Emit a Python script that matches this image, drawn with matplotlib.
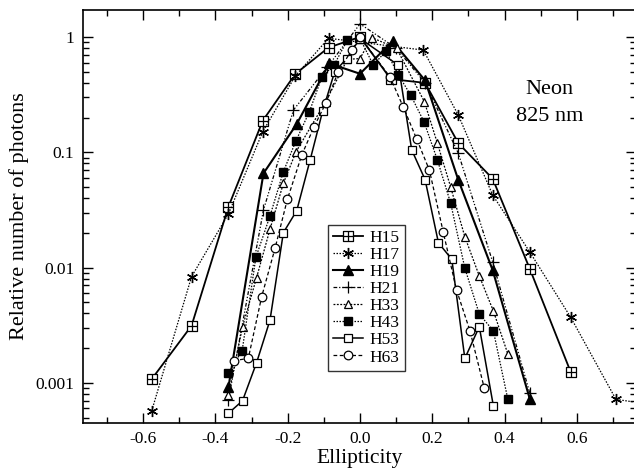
import numpy as np
import matplotlib
matplotlib.use("Agg")
import matplotlib.pyplot as plt
from matplotlib.path import Path

plt.rcParams['font.family'] = ['Liberation Serif', 'DejaVu Serif']
plt.rcParams['axes.unicode_minus'] = False

# ---- data ----
h15_x = [-0.576, -0.466, -0.364, -0.269, -0.179, -0.087, 0.0, 0.085, 0.18, 0.272, 0.367, 0.47, 0.583]
h15_y = [0.00108, 0.00313, 0.0337, 0.188, 0.478, 0.81, 1.0, 0.432, 0.40, 0.12, 0.059, 0.0097, 0.00124]

h17_x = [-0.576, -0.466, -0.364, -0.269, -0.179, -0.087, 0.175, 0.272, 0.367, 0.47, 0.583, 0.708, 0.82]
h17_y = [0.000574, 0.00834, 0.0292, 0.151, 0.459, 0.975, 0.77, 0.21, 0.0426, 0.0136, 0.0037, 0.00072, 0.00064]

h19_x = [-0.364, -0.267, -0.175, -0.085, 0.0, 0.09, 0.18, 0.272, 0.367, 0.47]
h19_y = [0.000916, 0.0657, 0.176, 0.59, 0.48, 0.92, 0.42, 0.0575, 0.0095, 0.00072]

h21_x = [-0.364, -0.267, -0.184, -0.09, 0.0, 0.1, 0.18, 0.272, 0.367, 0.47]
h21_y = [0.00071, 0.0316, 0.233, 0.55, 1.3, 0.8, 0.40, 0.098, 0.0112, 0.00081]

h33_x = [-0.364, -0.325, -0.286, -0.249, -0.212, -0.177, -0.095, -0.035, 0.0, 0.032, 0.101, 0.178, 0.214, 0.251, 0.29, 0.33, 0.369, 0.409]
h33_y = [0.00078, 0.00307, 0.0082, 0.0215, 0.0538, 0.101, 0.275, 0.64, 0.65, 0.99, 0.80, 0.275, 0.12, 0.0497, 0.0185, 0.00846, 0.0042, 0.00178]

h43_x = [-0.364, -0.326, -0.288, -0.249, -0.212, -0.177, -0.14, -0.105, -0.072, -0.035, 0.0, 0.037, 0.072, 0.106, 0.14, 0.177, 0.214, 0.251, 0.29, 0.33, 0.369, 0.409]
h43_y = [0.00123, 0.0019, 0.0123, 0.028, 0.0679, 0.126, 0.225, 0.453, 0.57, 0.94, 0.97, 0.57, 0.76, 0.47, 0.314, 0.184, 0.086, 0.036, 0.0099, 0.00396, 0.00282, 0.00072]

h53_x = [-0.364, -0.325, -0.286, -0.249, -0.212, -0.175, -0.138, -0.103, -0.07, -0.037, 0.0, 0.106, 0.143, 0.18, 0.217, 0.254, 0.29, 0.33, 0.369]
h53_y = [0.000545, 0.0007, 0.0015, 0.0035, 0.0201, 0.0312, 0.0857, 0.23, 0.5, 0.65, 0.97, 0.57, 0.105, 0.058, 0.0164, 0.0118, 0.00163, 0.00307, 0.00063]

h63_x = [-0.349, -0.309, -0.272, -0.235, -0.201, -0.161, -0.127, -0.094, -0.06, -0.023, 0.0, 0.083, 0.12, 0.157, 0.192, 0.23, 0.267, 0.304, 0.344]
h63_y = [0.00156, 0.00163, 0.0056, 0.0147, 0.039, 0.0948, 0.167, 0.269, 0.5, 0.77, 1.0, 0.45, 0.246, 0.13, 0.070, 0.0205, 0.0064, 0.00284, 0.000897]

labels = ['H15', 'H17', 'H19', 'H21', 'H33', 'H43', 'H53', 'H63']
xtick_vals = [-0.6, -0.4, -0.2, 0.0, 0.2, 0.4, 0.6]
ytick_vals = [1, 0.1, 0.01, 0.001]
ytick_labels = ['1', '0.1', '0.01', '0.001']

# ---- markers ----
sqcross = Path([(-1, -1), (1, -1), (1, 1), (-1, 1), (-1, -1), (-1, 0), (1, 0), (0, -1), (0, 1)],
               [Path.MOVETO, Path.LINETO, Path.LINETO, Path.LINETO, Path.CLOSEPOLY,
                Path.MOVETO, Path.LINETO, Path.MOVETO, Path.LINETO])

W, H = 634, 470
fig = plt.figure(figsize=(W / 100, H / 100), dpi=100)
left_px, right_px, top_px, bot_px = 82.7, 635.5, 10, 423
ax = fig.add_axes([left_px / W, 1 - bot_px / H, (right_px - left_px) / W, (bot_px - top_px) / H])

series = [
    (h15_x, h15_y, dict(marker=sqcross, ms=6.5, mfc='white', mec='k', mew=0.9, ls='-', lw=1.3)),
    (h17_x, h17_y, dict(marker=(6, 2, 0), ms=8, mfc='k', mec='k', mew=1.0, ls=(0, (1.2, 1.2)), lw=0.9)),
    (h19_x, h19_y, dict(marker='^', ms=6.5, mfc='k', mec='k', ls='-', lw=1.5)),
    (h21_x, h21_y, dict(marker='+', ms=8, mfc='k', mec='k', mew=0.9, ls=(0, (3, 1.5, 1, 1.5, 1, 1.5)), lw=0.9)),
    (h33_x, h33_y, dict(marker='^', ms=6.2, mfc='white', mec='k', mew=0.9, ls=(0, (1.5, 1.2)), lw=0.9)),
    (h43_x, h43_y, dict(marker='s', ms=6.2, mfc='k', mec='k', ls=(0, (1.2, 1.2)), lw=0.9)),
    (h53_x, h53_y, dict(marker='s', ms=6.2, mfc='white', mec='k', mew=0.9, ls='-', lw=1.1)),
    (h63_x, h63_y, dict(marker='o', ms=6.2, mfc='white', mec='k', mew=0.9, ls=(0, (3, 2)), lw=0.9)),
]
for (xs, ys, st), lab in zip(series, labels):
    ax.plot(xs, ys, color='k', label=lab, **st)

ax.set_yscale('log')
ax.set_xlim((left_px - 360) / 361.5, (right_px - 360) / 361.5)
ax.set_ylim(10 ** ((37 - bot_px) / 115.3), 10 ** ((37 - top_px) / 115.3))

ax.set_xticks(xtick_vals)
ax.set_xticklabels(['%.1f' % v for v in xtick_vals])
ax.set_xticks(np.arange(-0.7, 0.75, 0.1), minor=True)
ax.set_yticks(ytick_vals)
ax.set_yticklabels(ytick_labels)
ax.tick_params(which='both', direction='in', top=True, right=True, labelsize=12.5, width=1.0)
ax.tick_params(which='major', length=7, pad=6)
ax.tick_params(which='minor', length=4)
for sp in ax.spines.values():
    sp.set_linewidth(1.2)

ax.set_xlabel('Ellipticity', fontsize=15.5, labelpad=1)
ax.set_ylabel('Relative number of photons', fontsize=16, labelpad=5)

ax.text(0.525, 0.35, 'Neon', fontsize=16, ha='center', va='center')
ax.text(0.525, 0.205, '825 nm', fontsize=16, ha='center', va='center')

leg = ax.legend(loc='upper left', bbox_to_anchor=((328 - left_px) / (right_px - left_px), (bot_px - 225) / (bot_px - top_px)),
                borderaxespad=0, frameon=True, fancybox=False, edgecolor='k', fontsize=12.5,
                handlelength=1.7, handletextpad=0.4, labelspacing=0.05, borderpad=0.3)
leg.get_frame().set_linewidth(1.0)

fig.savefig('out.png', dpi=100)
